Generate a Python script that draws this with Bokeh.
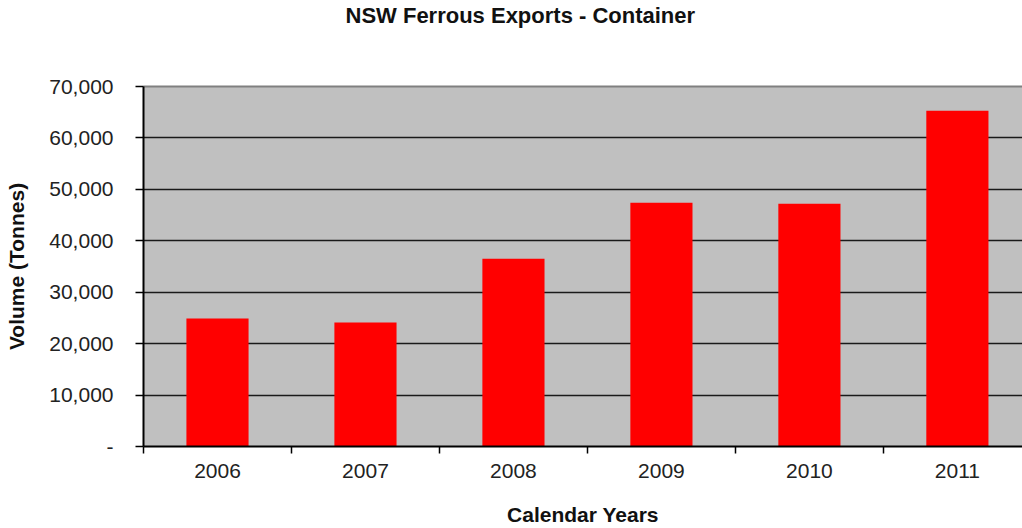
from bokeh.plotting import figure
from bokeh.models import Range1d, FixedTicker, NumeralTickFormatter, LinearAxis
from bokeh.embed import file_html
from bokeh.resources import INLINE

# Data
years = ["2006", "2007", "2008", "2009", "2010", "2011"]
volumes = [24900, 24100, 36500, 47400, 47200, 65300]
y_ticks = [0, 10000, 20000, 30000, 40000, 50000, 60000, 70000]
y_zero_label = "-"
title_text = "NSW Ferrous Exports - Container"

FONT = "Liberation Sans"

centers = [i + 0.5 for i in range(len(years))]
bounds = list(range(len(years) + 1))

p = figure(width=1022, height=528, output_backend="svg", toolbar_location=None,
           x_range=Range1d(0, 5.94), y_range=Range1d(y_ticks[0], y_ticks[-1]),
           min_border_left=143, min_border_right=0, min_border_top=86,
           min_border_bottom=82)

p.background_fill_color = "#C0C0C0"
p.border_fill_color = "white"
p.outline_line_color = None

p.vbar(x=centers, top=volumes, width=0.42, fill_color="#FF0000", line_color=None)

# Title (trailing empty lines lift it away from the plot frame)
p.title.text = title_text + "\n\n"
p.title.text_font = FONT
p.title.text_font_size = "22px"
p.title.text_font_style = "bold"
p.title.text_color = "#111111"
p.title.text_line_height = 1.17
p.title.align = "left"
p.title.offset = 202
p.title.vertical_align = "bottom"
p.title.standoff = 0

# X axis
xa = p.xaxis[0]
xa.ticker = FixedTicker(ticks=centers, minor_ticks=bounds)
xa.major_label_overrides = {c: y for c, y in zip(centers, years)}
xa.major_tick_out = 0
xa.major_tick_in = 0
xa.minor_tick_out = 7
xa.minor_tick_in = 0
xa.minor_tick_line_color = "black"
xa.minor_tick_line_width = 1.5
xa.axis_line_color = "black"
xa.axis_line_width = 2
xa.major_label_text_font = FONT
xa.major_label_text_font_size = "21px"
xa.major_label_text_color = "#222222"
xa.major_label_standoff = 10
xa.axis_label = "Calendar Years"
xa.axis_label_text_font = FONT
xa.axis_label_text_font_size = "21px"
xa.axis_label_text_font_style = "bold"
xa.axis_label_text_color = "#111111"
xa.axis_label_standoff = 22

# Y axis
ya = p.yaxis[0]
ya.ticker = FixedTicker(ticks=y_ticks, minor_ticks=[])
ya.formatter = NumeralTickFormatter(format="0,0")
ya.major_label_overrides = {0: y_zero_label}
ya.major_tick_out = 8
ya.major_tick_in = 0
ya.major_tick_line_color = "black"
ya.major_tick_line_width = 1.5
ya.axis_line_color = "black"
ya.axis_line_width = 2
ya.major_label_text_font = FONT
ya.major_label_text_font_size = "21px"
ya.major_label_text_color = "#222222"
ya.major_label_standoff = 22
ya.axis_label = "Volume (Tonnes)"
ya.axis_label_text_font = FONT
ya.axis_label_text_font_size = "21px"
ya.axis_label_text_font_style = "bold"
ya.axis_label_text_color = "#111111"
ya.axis_label_standoff = 18

# Top border
top = LinearAxis(ticker=FixedTicker(ticks=[], minor_ticks=[]),
                 axis_line_color="#808080", axis_line_width=2,
                 major_tick_line_color=None, minor_tick_line_color=None)
p.add_layout(top, "above")

# Grid
p.xgrid.visible = False
p.ygrid.ticker = FixedTicker(ticks=y_ticks[1:-1], minor_ticks=[])
p.ygrid.grid_line_color = "#1a1a1a"
p.ygrid.grid_line_width = 1.4

open("out.html", "w").write(file_html(p, INLINE))
